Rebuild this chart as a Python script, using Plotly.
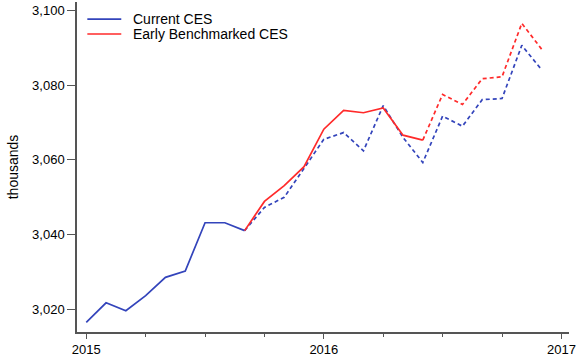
import plotly.graph_objects as go

# Monthly positions: 2015 Jan .. 2016 Dec
months = [2015 + i / 12 for i in range(24)]

current_ces = [3016.6, 3021.8, 3019.7, 3023.7, 3028.6, 3030.3, 3043.2, 3043.2, 3041.1,
               3047.3, 3050.0, 3057.6, 3065.5, 3067.3, 3062.4, 3074.5, 3066.0, 3059.3,
               3071.7, 3069.0, 3076.1, 3076.4, 3090.6, 3084.1]
early_bench = [None] * 8 + [3041.1, 3048.9, 3053.1, 3058.2, 3068.2, 3073.2, 3072.6, 3073.9,
                            3066.6, 3065.3, 3077.5, 3074.8, 3081.7, 3082.2, 3096.5, 3089.6]

series_names = ["Current CES", "Early Benchmarked CES"]
blue_solid_end = 8    # solid through Sep 2015
red_solid_end = 17    # solid through Jun 2016

tick_vals = [2015, 2016, 2017]
tick_text = ["2015", "2016", "2017"]
minor_vals = [2015.25, 2015.5, 2015.75, 2016.25, 2016.5, 2016.75]
y_ticks = [3020, 3040, 3060, 3080, 3100]
y_text = ["3,020", "3,040", "3,060", "3,080", "3,100"]

BLUE = "#3344BB"
RED = "#FF2A2A"
AX = "#555555"
DASH = "4px,3px"

fig = go.Figure()
fig.add_trace(go.Scatter(x=months[:blue_solid_end + 1], y=current_ces[:blue_solid_end + 1],
                         mode="lines", showlegend=False, line=dict(color=BLUE, width=1.7)))
fig.add_trace(go.Scatter(x=months[blue_solid_end:], y=current_ces[blue_solid_end:],
                         mode="lines", showlegend=False,
                         line=dict(color=BLUE, width=1.7, dash=DASH)))
fig.add_trace(go.Scatter(x=months[8:red_solid_end + 1], y=early_bench[8:red_solid_end + 1],
                         mode="lines", showlegend=False, line=dict(color=RED, width=1.7)))
fig.add_trace(go.Scatter(x=months[red_solid_end:], y=early_bench[red_solid_end:],
                         mode="lines", showlegend=False,
                         line=dict(color=RED, width=1.7, dash=DASH)))

# Manual legend (paper coordinates)
legend_rows = [(series_names[0], BLUE, 0.948), (series_names[1], RED, 0.903)]
for name, col, yy in legend_rows:
    fig.add_shape(type="line", xref="paper", yref="paper", x0=0.021, x1=0.090, y0=yy, y1=yy,
                  line=dict(color=col, width=1.7))
    fig.add_annotation(xref="paper", yref="paper", x=0.110, y=yy, text=name, showarrow=False,
                       xanchor="left", yanchor="middle", font=dict(size=14, color="black"))

fig.update_layout(
    width=582, height=359,
    margin=dict(l=77, r=13, t=2, b=25),
    paper_bgcolor="white", plot_bgcolor="white",
    font=dict(family="Liberation Sans, Arial, sans-serif", size=13, color="black"),
    showlegend=False,
)
fig.update_xaxes(
    range=[2014.961, 2017.032], tickmode="array", tickvals=tick_vals, ticktext=tick_text,
    showgrid=False, zeroline=False, showline=True, linecolor=AX, linewidth=1.5,
    ticks="outside", ticklen=5, tickcolor=AX, tickwidth=1.2,
    minor=dict(tickmode="array", tickvals=minor_vals,
               ticks="outside", ticklen=3, tickcolor=AX, tickwidth=1.2, showgrid=False),
    tickfont=dict(size=13),
)
fig.update_yaxes(
    range=[3014.0, 3102.2], tickmode="array", tickvals=y_ticks, ticktext=y_text,
    showgrid=False, zeroline=False, showline=True, linecolor=AX, linewidth=1.5,
    ticks="outside", ticklen=8, tickcolor=AX, tickwidth=1.2,
    title=dict(text="thousands", font=dict(size=14), standoff=10),
    tickfont=dict(size=13),
)
fig.write_html("out.html", config={"displayModeBar": False},
               post_script="document.body.style.margin='0';document.body.style.padding='0';")
